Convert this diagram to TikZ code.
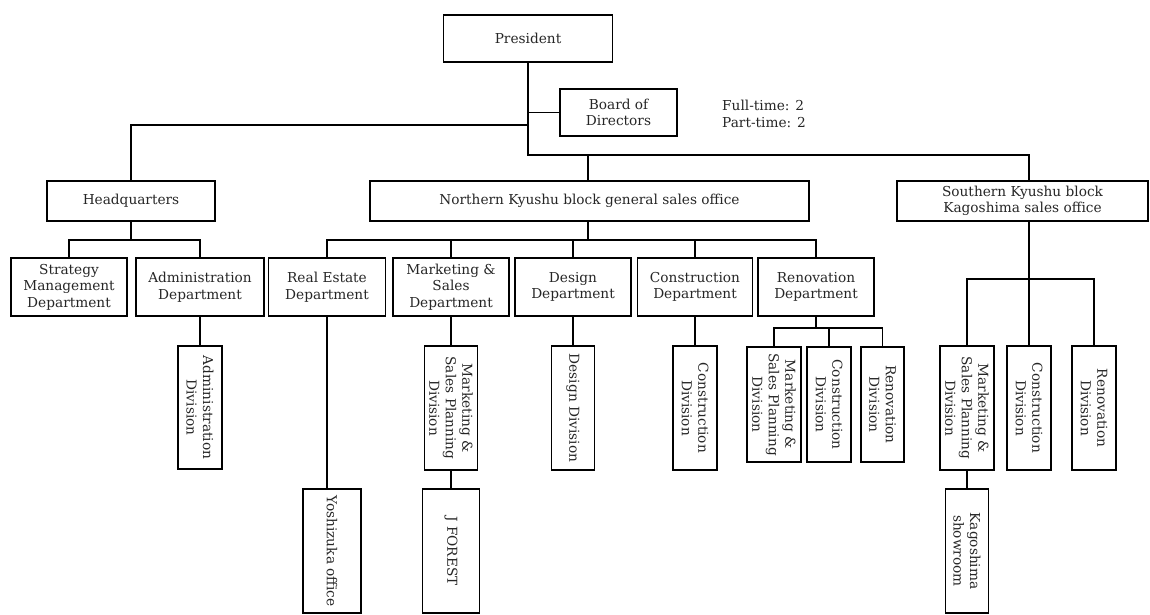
\documentclass[tikz,border=0pt]{standalone}
\usepackage{fontspec}
\setmainfont{DejaVu Serif}
\begin{document}
\begin{tikzpicture}[x=1pt,y=-1pt,
  box/.style={draw=black, line width=1.8pt, inner sep=0pt, align=center,
    text=black!85, font=\fontsize{13.7}{16.5}\selectfont},
  vbox/.style={box, rotate=-90},
  conn/.style={draw=black, line width=1.8pt},
  note/.style={inner sep=0pt, align=left, text=black!85, font=\fontsize{13.7}{16.5}\selectfont}]
\useasboundingbox (0,0) rectangle (1150,614);
% top level
\node[box, minimum width=169, minimum height=47] (pres) at (528,38.5) {President};
\node[box, minimum width=117, minimum height=47] (board) at (618.5,112.5) {Board of\\Directors};
\node[note, anchor=west] (staff) at (722,114) {Full-time: 2\\Part-time: 2};
\node[box, minimum width=168, minimum height=40] (hq) at (131,201) {Headquarters};
\node[box, minimum width=439, minimum height=40] (north) at (589.5,201) {Northern Kyushu block general sales office};
\node[box, minimum width=251, minimum height=40] (south) at (1022.5,201) {Southern Kyushu block\\Kagoshima sales office};
% departments
\node[box, minimum width=116, minimum height=58] (strat) at (69,287) {Strategy\\Management\\Department};
\node[box, minimum width=128, minimum height=58] (adm) at (200,287) {Administration\\Department};
\node[box, minimum width=117, minimum height=58] (realest) at (327,287) {Real Estate\\Department};
\node[box, minimum width=116, minimum height=58] (mkt) at (451,287) {Marketing \&\\Sales\\Department};
\node[box, minimum width=116, minimum height=58] (design) at (573,287) {Design\\Department};
\node[box, minimum width=115, minimum height=58] (constr) at (695,287) {Construction\\Department};
\node[box, minimum width=116, minimum height=58] (renov) at (816,287) {Renovation\\Department};
% divisions (vertical)
\node[vbox, minimum width=123, minimum height=44] (admdiv) at (200,407.5) {Administration\\Division};
\node[vbox, minimum width=124, minimum height=53] (mspdiv) at (451,408) {Marketing \&\\Sales Planning\\Division};
\node[vbox, minimum width=124, minimum height=43] (desdiv) at (573,408) {Design Division};
\node[vbox, minimum width=124, minimum height=44] (condiv) at (695,408) {Construction\\Division};
\node[vbox, minimum width=115, minimum height=54] (rmsp) at (774,404.5) {Marketing \&\\Sales Planning\\Division};
\node[vbox, minimum width=115, minimum height=44] (rcon) at (829,404.5) {Construction\\Division};
\node[vbox, minimum width=115, minimum height=43] (rren) at (882.5,404.5) {Renovation\\Division};
\node[vbox, minimum width=124, minimum height=54] (smsp) at (967,408) {Marketing \&\\Sales Planning\\Division};
\node[vbox, minimum width=124, minimum height=44] (scon) at (1029,408) {Construction\\Division};
\node[vbox, minimum width=124, minimum height=44] (sren) at (1094,408) {Renovation\\Division};
\node[vbox, minimum width=124, minimum height=58] (yoshi) at (332,551) {Yoshizuka office};
\node[vbox, minimum width=124, minimum height=57] (jforest) at (451,551) {J FOREST};
\node[vbox, minimum width=124, minimum height=43] (kago) at (967,551) {Kagoshima\\showroom};
% connectors
\coordinate (tb) at (528,155);
\draw[conn] (pres.south) -- (tb) -| (scon.west |- south.north);
\draw[conn] (pres.south |- board.west) -- (board.west);
\draw[conn] (528,125) -| (hq.north);
\draw[conn] (north.north -| 588,0) -- (588,155);
\draw[conn] (hq.south) -- (131,240);
\draw[conn] (strat.north) -- (69,240) -| (adm.north);
\draw[conn] (adm.south) -- (admdiv.west);
\draw[conn] (588,221) -- (588,240);
\draw[conn] (realest.north) -- (327,240) -| (renov.north);
\draw[conn] (mkt.north) -- (451,240);
\draw[conn] (design.north) -- (573,240);
\draw[conn] (constr.north) -- (695,240);
\draw[conn] (realest.south) -- (realest.south |- yoshi.west);
\draw[conn] (mkt.south) -- (mspdiv.west);
\draw[conn] (mspdiv.east) -- (jforest.west);
\draw[conn] (design.south) -- (desdiv.west);
\draw[conn] (constr.south) -- (condiv.west);
\draw[conn] (renov.south) -- (816,328);
\draw[conn] (rmsp.west) -- (774,328) -| (rren.west);
\draw[conn] (rcon.west) -- (829,328);
\draw[conn] (scon.west |- south.south) -- (scon.west);
\draw[conn] (smsp.west) -- (967,279) -| (sren.west);
\draw[conn] (smsp.east) -- (kago.west);
\end{tikzpicture}
\end{document}
